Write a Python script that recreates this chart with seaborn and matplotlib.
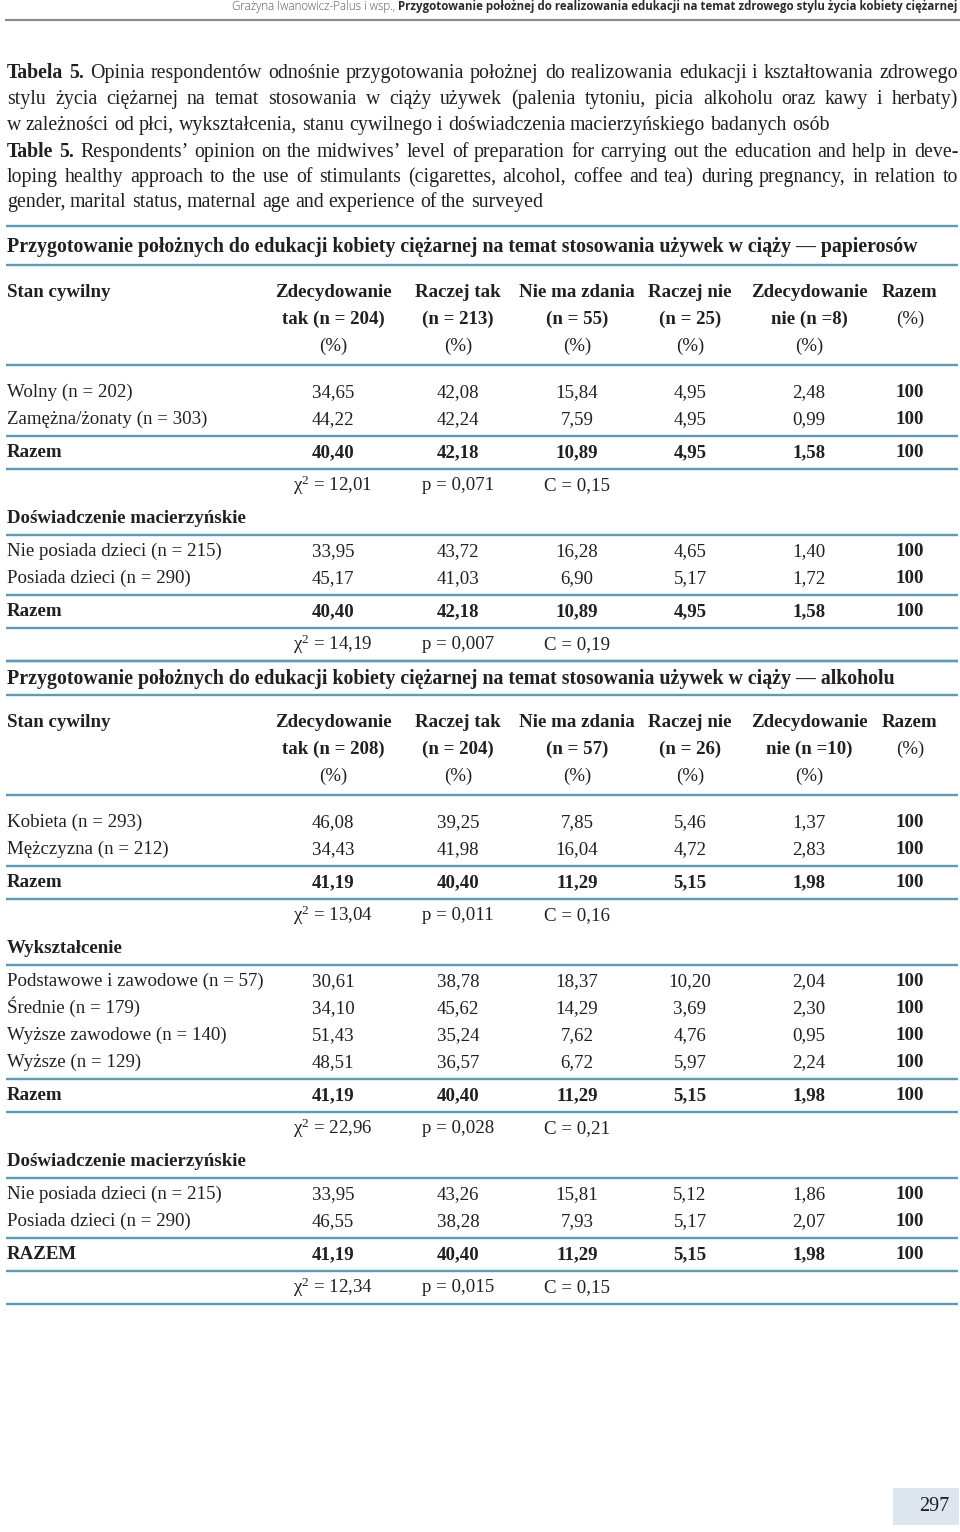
import numpy as np
import pandas as pd
import seaborn as sns
import matplotlib.pyplot as plt
from matplotlib.patches import Rectangle

# ---- page texts ----
running_author = "Grażyna Iwanowicz-Palus i wsp., "
running_title = "Przygotowanie położnej do realizowania edukacji na temat zdrowego stylu życia kobiety ciężarnej"
page_number = "297"

caption_lines = [
    ("Tabela 5.", "Opinia respondentów odnośnie przygotowania położnej do realizowania edukacji i kształtowania zdrowego"),
    ("", "stylu życia ciężarnej na temat stosowania w ciąży używek (palenia tytoniu, picia alkoholu oraz kawy i herbaty)"),
    ("", "w zależności od płci, wykształcenia, stanu cywilnego i doświadczenia macierzyńskiego badanych osób"),
    ("Table 5.", "Respondents’ opinion on the midwives’ level of preparation for carrying out the education and help in deve-"),
    ("", "loping healthy approach to the use of stimulants (cigarettes, alcohol, coffee and tea) during pregnancy, in relation to"),
    ("", "gender, marital status, maternal age and experience of the surveyed"),
]
caption_justified = [True, True, False, True, True, False]

# ---- table 1: cigarettes ----
smoke_title = "Przygotowanie położnych do edukacji kobiety ciężarnej na temat stosowania używek w ciąży — papierosów"
smoke_n = [204, 213, 55, 25, 8]

smoke_marital_labels = ["Wolny (n = 202)", "Zamężna/żonaty (n = 303)"]
smoke_marital = [[34.65, 42.08, 15.84, 4.95, 2.48],
                 [44.22, 42.24, 7.59, 4.95, 0.99]]
smoke_marital_total = [40.40, 42.18, 10.89, 4.95, 1.58]
smoke_marital_stats = [12.01, 0.071, 0.15]

smoke_mother_labels = ["Nie posiada dzieci (n = 215)", "Posiada dzieci (n = 290)"]
smoke_mother = [[33.95, 43.72, 16.28, 4.65, 1.40],
                [45.17, 41.03, 6.90, 5.17, 1.72]]
smoke_mother_total = [40.40, 42.18, 10.89, 4.95, 1.58]
smoke_mother_stats = [14.19, 0.007, 0.19]

# ---- table 2: alcohol ----
alco_title = "Przygotowanie położnych do edukacji kobiety ciężarnej na temat stosowania używek w ciąży — alkoholu"
alco_n = [208, 204, 57, 26, 10]

alco_sex_labels = ["Kobieta (n = 293)", "Mężczyzna (n = 212)"]
alco_sex = [[46.08, 39.25, 7.85, 5.46, 1.37],
            [34.43, 41.98, 16.04, 4.72, 2.83]]
alco_sex_total = [41.19, 40.40, 11.29, 5.15, 1.98]
alco_sex_stats = [13.04, 0.011, 0.16]

alco_edu_labels = ["Podstawowe i zawodowe (n = 57)", "Średnie (n = 179)",
                   "Wyższe zawodowe (n = 140)", "Wyższe (n = 129)"]
alco_edu = [[30.61, 38.78, 18.37, 10.20, 2.04],
            [34.10, 45.62, 14.29, 3.69, 2.30],
            [51.43, 35.24, 7.62, 4.76, 0.95],
            [48.51, 36.57, 6.72, 5.97, 2.24]]
alco_edu_total = [41.19, 40.40, 11.29, 5.15, 1.98]
alco_edu_stats = [22.96, 0.028, 0.21]

alco_mother_labels = ["Nie posiada dzieci (n = 215)", "Posiada dzieci (n = 290)"]
alco_mother = [[33.95, 43.26, 15.81, 5.12, 1.86],
               [46.55, 38.28, 7.93, 5.17, 2.07]]
alco_mother_total = [41.19, 40.40, 11.29, 5.15, 1.98]
alco_mother_stats = [12.34, 0.015, 0.15]

answer_heads = [["Zdecydowanie", "tak (n = {})", "(%)"],
                ["Raczej tak", "(n = {})", "(%)"],
                ["Nie ma zdania", "(n = {})", "(%)"],
                ["Raczej nie", "(n = {})", "(%)"],
                ["Zdecydowanie", "nie (n ={})", "(%)"]]
total_head = ["Razem", "(%)"]

# ---- style ----
sns.set_theme(style="white")
plt.rcParams["font.family"] = ["Liberation Serif", "DejaVu Serif"]
plt.rcParams["mathtext.default"] = "regular"
plt.rcParams["mathtext.fontset"] = "custom"
plt.rcParams["mathtext.rm"] = "Liberation Serif"
plt.rcParams["mathtext.it"] = "Liberation Serif:italic"
INK = "#231f20"
RULE = "#5b9bb3"
FS = 13.6       # table body
FS_CAP = 14.3   # caption and table titles

fig = plt.figure(figsize=(9.6, 15.32), dpi=100)
ax = fig.add_axes([0, 0, 1, 1])
ax.set_xlim(0, 960)
ax.set_ylim(1532, 0)
ax.axis("off")
renderer = fig.canvas.get_renderer()

col_x = [333, 458, 577, 690, 809, 910]
X0, X1 = 7, 958


def fmt(v, d=2):
    return f"{v:.{d}f}".replace(".", ",")


def txt(x, y, s, bold=False, ha="left", **kw):
    # y is the visual middle of the line; put text on a whole-pixel baseline
    fs = kw.pop("fs", FS)
    base = round(y + fs * 0.37)
    return ax.text(x, base, s, fontsize=fs, fontweight="bold" if bold else "normal",
                   ha=ha, va="baseline", color=kw.pop("color", INK), **kw)


def rule(y):
    ax.hlines(y, 6, 958, color=RULE, lw=1.7)


# running header
HFS = 8.3
t_title = ax.text(958, 10, running_title, fontsize=HFS, fontweight="bold", ha="right", va="baseline",
                  family=["Open Sans", "DejaVu Sans"], color="#2b2b2b")
w_title = t_title.get_window_extent(renderer).width
ax.text(958 - w_title, 10, running_author, fontsize=HFS, ha="right", va="baseline",
        family=["Open Sans", "DejaVu Sans"], color="#555555", fontweight="light")
ax.hlines(20, 5, 960, color="#8c8c8c", lw=1.6)

# caption (justified lines)
cap_y = [73, 99, 125, 152, 177, 202]
for (lead, body), y, just in zip(caption_lines, cap_y, caption_justified):
    tokens = [(w, True) for w in lead.split()] + [(w, False) for w in body.split()]
    items = [txt(X0, y, w, bold=b, fs=FS_CAP) for w, b in tokens]
    widths = [t.get_window_extent(renderer).width for t in items]
    gap = (X1 - X0 - sum(widths)) / (len(items) - 1) if just else FS_CAP * 100 / 72 * 0.25
    x = X0
    for t, w in zip(items, widths):
        t.set_x(round(x))
        x += w + gap


def stats_row(y, stats):
    chi, p, c = stats
    txt(col_x[0], y + 1, f"χ$^{{2}}$ = {fmt(chi)}", ha="center")
    txt(col_x[1], y, f"p = {fmt(p, 3)}", ha="center")
    txt(col_x[2], y, f"C = {fmt(c)}", ha="center")


def value_row(y, label, vals, bold=False):
    txt(X0, y, label, bold=bold)
    for x, v in zip(col_x, vals):
        txt(x, y, fmt(v), ha="center", bold=bold)
    txt(col_x[5], y, "100", ha="center", bold=True)


def table(y, title, ns, first_head, blocks, title_gap):
    rule(y)
    txt(X0, y + title_gap / 2 + 1, title, bold=True, fs=FS_CAP)
    y += title_gap
    rule(y)
    txt(X0, y + 27, first_head, bold=True)
    for x, head, n in zip(col_x, answer_heads, ns):
        for i, line in enumerate(head):
            txt(x, y + 27 * (i + 1), line.format(n), ha="center", bold=i < 2)
    for i, line in enumerate(total_head):
        txt(col_x[5], y + 27 * (i + 1), line, ha="center", bold=i < 1)
    y += 100
    rule(y)
    for k, (group, labels, rows, total, total_label, stats) in enumerate(blocks):
        if group:
            txt(X0, y + 16, group, bold=True)
            y += 33
            rule(y)
            yy = y + 16
        else:
            yy = y + 27
        for lab, row in zip(labels, rows):
            value_row(yy, lab, row)
            yy += 27
        y = yy - 27 + 17
        rule(y)
        value_row(y + 16, total_label, total, bold=True)
        y += 33
        rule(y)
        stats_row(y + 16, stats)
        y += 33
    rule(y)
    return y


y_end = table(226, smoke_title, smoke_n, "Stan cywilny", [
    (None, smoke_marital_labels, smoke_marital, smoke_marital_total, "Razem", smoke_marital_stats),
    ("Doświadczenie macierzyńskie", smoke_mother_labels, smoke_mother, smoke_mother_total, "Razem", smoke_mother_stats),
], title_gap=39)

table(y_end, alco_title, alco_n, "Stan cywilny", [
    (None, alco_sex_labels, alco_sex, alco_sex_total, "Razem", alco_sex_stats),
    ("Wykształcenie", alco_edu_labels, alco_edu, alco_edu_total, "Razem", alco_edu_stats),
    ("Doświadczenie macierzyńskie", alco_mother_labels, alco_mother, alco_mother_total, "RAZEM", alco_mother_stats),
], title_gap=34)

# page number box
ax.add_patch(Rectangle((893, 1488), 66, 37, facecolor="#dde5ef", edgecolor="none"))
txt(934, 1506, page_number, ha="center", fs=14.5)

fig.savefig("out.png", dpi=100)
